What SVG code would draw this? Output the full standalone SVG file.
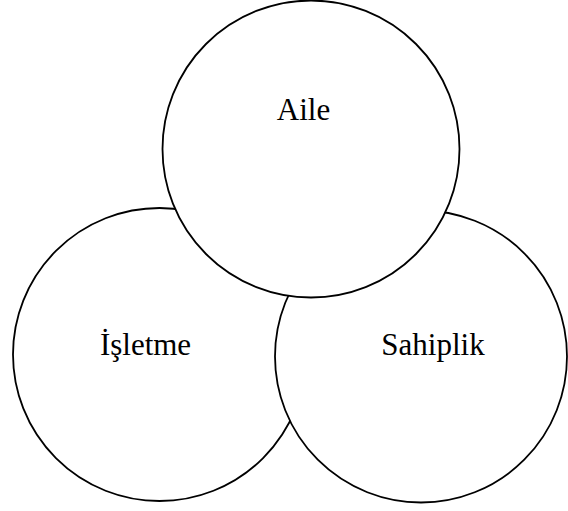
<svg xmlns="http://www.w3.org/2000/svg" width="568" height="511" viewBox="0 0 568 511">
<style>
.c{fill:#fff;stroke:#000;stroke-width:1.8}
.t{font-family:"Liberation Serif","Times New Roman",serif;font-size:31px;fill:#000;text-anchor:middle}
</style>
<rect width="568" height="511" fill="#fff"/>
<g id="isletme"><circle class="c" cx="159.5" cy="354.5" r="146.5"/><text class="t" x="145.5" y="355">İşletme</text></g>
<g id="sahiplik"><circle class="c" cx="421" cy="356.5" r="146"/><text class="t" x="433" y="355">Sahiplik</text></g>
<g id="aile"><circle class="c" cx="311" cy="149" r="148.5"/><text class="t" x="303.5" y="120">Aile</text></g>
<g id="connectors"></g>
</svg>
